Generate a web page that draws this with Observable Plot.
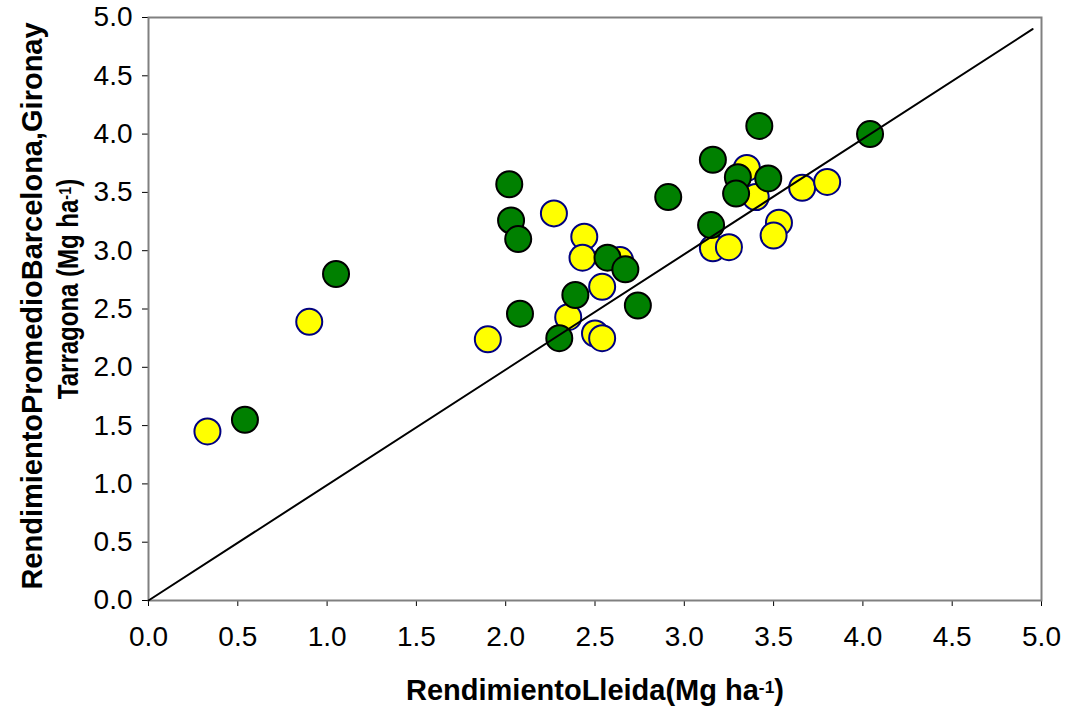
<!DOCTYPE html>
<html>
<head>
<meta charset="utf-8">
<script src="https://cdn.jsdelivr.net/npm/d3@7"></script>
<script src="https://cdn.jsdelivr.net/npm/@observablehq/plot@0.6"></script>
<style>
  html, body { margin: 0; padding: 0; background: #fff; }
  #chart svg { display: block; }
</style>
</head>
<body>
<div id="chart"></div>
<script>
// Serie amarilla: rendimiento en Lleida (x) frente al promedio de Barcelona, Girona y Tarragona (y)
const amarillaLleida   = [0.33, 0.90, 1.90, 2.27, 2.44, 2.43, 2.64, 2.54, 2.35, 2.50, 2.54, 3.35, 3.40, 3.66, 3.80, 3.53, 3.50, 3.16, 3.25];
const amarillaPromedio = [1.45, 2.39, 2.24, 3.32, 3.12, 2.94, 2.92, 2.69, 2.43, 2.29, 2.25, 3.71, 3.46, 3.54, 3.59, 3.24, 3.13, 3.02, 3.03];

// Serie verde
const verdeLleida   = [0.54, 1.05, 2.02, 2.03, 2.07, 2.08, 2.30, 2.39, 2.57, 2.67, 2.74, 2.91, 3.15, 3.16, 3.30, 3.29, 3.47, 3.42, 4.04];
const verdePromedio = [1.55, 2.80, 3.57, 3.26, 3.10, 2.46, 2.25, 2.62, 2.94, 2.84, 2.53, 3.46, 3.22, 3.78, 3.63, 3.49, 3.62, 4.07, 4.00];

// Recta 1:1
const rectaX = [0, 4.95];
const rectaY = [0, 4.90];

// Marcas de los ejes
const marcas = [0, 0.5, 1, 1.5, 2, 2.5, 3, 3.5, 4, 4.5, 5];

const tituloX = "RendimientoLleida(Mg ha-1)";
const tituloY1 = "RendimientoPromedioBarcelona,Gironay";
const tituloY2 = "Tarragona (Mg ha-1)";

const amarilla = amarillaLleida.map((x, i) => ({x, y: amarillaPromedio[i]}));
const verde = verdeLleida.map((x, i) => ({x, y: verdePromedio[i]}));
const recta = rectaX.map((x, i) => ({x, y: rectaY[i]}));

const fmt = d3.format(".1f");

const chart = Plot.plot({
  width: 1068,
  height: 711,
  marginLeft: 148,
  marginRight: 27,
  marginTop: 17,
  marginBottom: 111,
  style: {fontFamily: "'Liberation Sans', Arial, sans-serif", background: "#fff", color: "#000"},
  x: {domain: [0, 5]},
  y: {domain: [0, 5]},
  marks: [
    Plot.axisX({ticks: marcas, tickFormat: fmt, tickSize: 6, tickPadding: 20, fontSize: 28, label: null, stroke: "#000"}),
    Plot.axisY({ticks: marcas, tickFormat: fmt, tickSize: 6, tickPadding: 10, fontSize: 28, label: null, stroke: "#000"}),
    Plot.frame({stroke: "#808080", strokeWidth: 2}),
    Plot.dot(amarilla, {x: "x", y: "y", r: 13, fill: "#FFFF00", stroke: "#000080", strokeWidth: 2}),
    Plot.dot(verde, {x: "x", y: "y", r: 13, fill: "#008000", stroke: "#000", strokeWidth: 2}),
    Plot.line(recta, {x: "x", y: "y", stroke: "#000", strokeWidth: 2}),
    Plot.text([tituloX], {frameAnchor: "bottom", dy: 90, fontSize: 29, fontWeight: "bold", textAnchor: "middle", lineAnchor: "middle", fill: "#000"}),
    Plot.text([tituloY1], {frameAnchor: "left", dx: -116, dy: -3, rotate: -90, fontSize: 29, fontWeight: "bold", textAnchor: "middle", lineAnchor: "middle", fill: "#000"}),
    Plot.text([tituloY2], {frameAnchor: "left", dx: -80, dy: -20, rotate: -90, fontSize: 24, fontWeight: "bold", textAnchor: "middle", lineAnchor: "middle", fill: "#000"})
  ]
});

d3.select(chart).selectAll("text").each(function () {
  const t = d3.select(this);
  const s = this.textContent;
  // Exponente "-1" de las unidades como superíndice
  if (s.endsWith("ha-1)")) {
    const base = s.slice(0, -3);
    t.text(base);
    t.append("tspan").attr("font-size", "0.6em").attr("dy", "-0.4em").text("-1");
    t.append("tspan").attr("dy", "0.24em").text(")");
  }
  // La segunda línea del título vertical es más gruesa que larga
  if (s.startsWith("Tarragona")) {
    const tr = t.attr("transform") || "";
    t.attr("transform", tr + " scale(1,1.2)");
  }
});

document.getElementById("chart").appendChild(chart);
</script>
</body>
</html>
